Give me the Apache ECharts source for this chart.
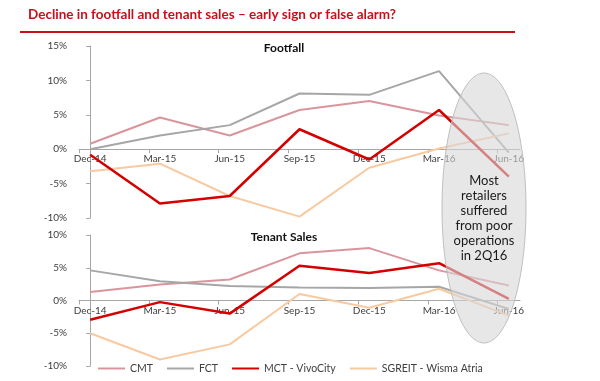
<!DOCTYPE html>
<html>
<head>
<meta charset="utf-8">
<script src="https://cdn.jsdelivr.net/npm/echarts@6/dist/echarts.min.js"></script>
<style>html,body{margin:0;padding:0;background:#fff}#c{width:600px;height:381px}</style>
</head>
<body>
<div id="c"></div>
<script>
const categories = ['Dec-14','Mar-15','Jun-15','Sep-15','Dec-15','Mar-16','Jun-16'];
const seriesNames = ['CMT','FCT','MCT - VivoCity','SGREIT - Wisma Atria'];

// Footfall (% change)
const footCMT    = [0.8, 4.6, 2.0, 5.7, 7.0, 4.9, 3.5];
const footFCT    = [0.0, 2.0, 3.5, 8.1, 7.9, 11.35, -0.5];
const footMCT    = [-0.8, -7.9, -6.8, 2.9, -1.5, 5.7, -4.0];
const footSGREIT = [-3.2, -2.1, -6.8, -9.8, -2.7, 0.1, 2.3];

// Tenant sales (% change)
const salesCMT    = [1.3, 2.45, 3.2, 7.2, 8.0, 4.6, 2.3];
const salesFCT    = [4.6, 2.95, 2.2, 2.0, 1.9, 2.1, -1.3];
const salesMCT    = [-2.95, -0.25, -2.0, 5.3, 4.2, 5.7, 0.25];
const salesSGREIT = [-5.0, -9.0, -6.7, 1.0, -1.1, 1.8, -2.3];

const footTicks  = [-10, -5, 0, 5, 10, 15];
const salesTicks = [-10, -5, 0, 5, 10];

const colors = ['#d9959b', '#a6a6a6', '#d40000', '#f9c9a0'];
const widths = [2, 2, 2.5, 2];
const FONT = 'Lato, "Liberation Sans", sans-serif';

const pad = 0.16;
const labelVals = categories.map((c, i) => i);
const tickVals = categories.map((c, i) => i - pad);

const grids = [
  { left: 79, right: 80, top: 46, height: 172 },
  { left: 79, right: 80, top: 235, height: 131 }
];
const yTicks = [footTicks, salesTicks];

// place the category axis on the zero line of its value axis
function zeroOffset(gi) {
  const t = yTicks[gi], lo = t[0], hi = t[t.length - 1];
  return -grids[gi].height * (0 - lo) / (hi - lo);
}

function xAx(gi) {
  return {
    gridIndex: gi, type: 'value', min: -pad, max: categories.length - 1 + pad,
    position: 'bottom', offset: zeroOffset(gi),
    axisLine: { onZero: false, lineStyle: { color: '#a6a6a6', width: 1 } },
    axisTick: { show: true, customValues: tickVals, length: 4, lineStyle: { color: '#a6a6a6' } },
    axisLabel: { customValues: labelVals, formatter: v => categories[Math.round(v)] || '',
                 margin: 5, fontSize: 10, color: '#404040', fontFamily: FONT },
    splitLine: { show: false }
  };
}
function yAx(gi) {
  const ticks = yTicks[gi];
  return {
    gridIndex: gi, type: 'value', min: ticks[0], max: ticks[ticks.length - 1], interval: 5,
    axisLine: { show: true, lineStyle: { color: '#a6a6a6' } },
    axisTick: { show: true, length: 4, lineStyle: { color: '#a6a6a6' } },
    axisLabel: { formatter: '{value}%', fontSize: 10, color: '#404040', margin: 12, fontFamily: FONT },
    splitLine: { show: false }
  };
}
function mk(name, idx, gi, vals) {
  return {
    name: name, type: 'line', xAxisIndex: gi, yAxisIndex: gi,
    data: vals.map((v, i) => [i, v]), symbol: 'none', smooth: false,
    lineStyle: { color: colors[idx], width: widths[idx] },
    itemStyle: { color: colors[idx] },
    z: idx === 2 ? 4 : 2
  };
}

const chart = echarts.init(document.getElementById('c'), null, { renderer: 'canvas' });
chart.setOption({
  animation: false,
  title: [
    { text: 'Decline in footfall and tenant sales – early sign or false alarm?', left: 28, top: 8, padding: 0,
      textStyle: { color: '#c8101a', fontSize: 13.5, fontWeight: 'bold', fontFamily: FONT } },
    { text: 'Footfall', left: 284, top: 42, padding: 0, textAlign: 'center',
      textStyle: { color: '#111', fontSize: 12, fontWeight: 'bold', fontFamily: FONT } },
    { text: 'Tenant Sales', left: 284, top: 231, padding: 0, textAlign: 'center',
      textStyle: { color: '#111', fontSize: 12, fontWeight: 'bold', fontFamily: FONT } }
  ],
  grid: grids,
  xAxis: [xAx(0), xAx(1)],
  yAxis: [yAx(0), yAx(1)],
  legend: {
    left: 98, top: 363, padding: 0, itemWidth: 27, itemHeight: 2, itemGap: 14,
    icon: 'rect',
    data: seriesNames,
    textStyle: { fontSize: 10.5, color: '#404040', fontFamily: FONT }
  },
  series: [
    mk(seriesNames[0], 0, 0, footCMT), mk(seriesNames[1], 1, 0, footFCT),
    mk(seriesNames[2], 2, 0, footMCT), mk(seriesNames[3], 3, 0, footSGREIT),
    mk(seriesNames[0], 0, 1, salesCMT), mk(seriesNames[1], 1, 1, salesFCT),
    mk(seriesNames[2], 2, 1, salesMCT), mk(seriesNames[3], 3, 1, salesSGREIT)
  ],
  graphic: [
    { type: 'line', z: 100, shape: { x1: 20, y1: 32, x2: 515, y2: 32 },
      style: { stroke: '#c8101a', lineWidth: 2 } },
    { type: 'ellipse', z: 100, shape: { cx: 484, cy: 208, rx: 42, ry: 135 },
      style: { fill: 'rgba(215,215,215,0.6)', stroke: 'rgba(185,185,185,0.9)', lineWidth: 1 } },
    { type: 'text', z: 101, x: 484, y: 218,
      style: { text: 'Most\nretailers\nsuffered\nfrom poor\noperations\nin 2Q16',
               textAlign: 'center', textVerticalAlign: 'middle', lineHeight: 15,
               fontSize: 13, fill: '#1a1a1a', fontFamily: FONT } }
  ]
});
</script>
</body>
</html>
